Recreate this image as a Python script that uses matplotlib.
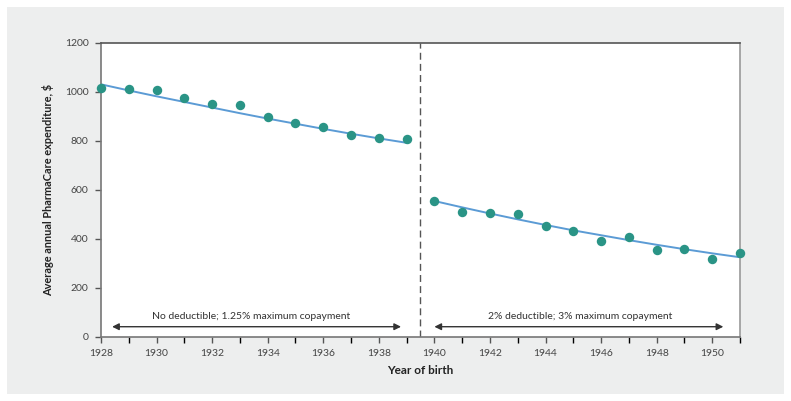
import numpy as np
import matplotlib
matplotlib.use("Agg")
import matplotlib.pyplot as plt
from matplotlib.patches import Rectangle

plt.rcParams['font.family'] = ['Lato', 'DejaVu Sans']

years_a = [1928, 1929, 1930, 1931, 1932, 1933, 1934, 1935, 1936, 1937, 1938, 1939]
spend_a = [1015, 1013, 1008, 976, 949, 946, 897, 874, 856, 822, 811, 806]
trend_a = [1031, 1006, 982, 959, 936, 913, 891, 870, 849, 829, 810, 792]
years_b = [1940, 1941, 1942, 1943, 1944, 1945, 1946, 1947, 1948, 1949, 1950, 1951]
spend_b = [554, 510, 505, 501, 452, 430, 389, 407, 352, 358, 317, 343]
trend_b = [554, 528, 503, 479, 456, 434, 414, 394, 375, 357, 340, 324]
xtick_labels = [1928, 1930, 1932, 1934, 1936, 1938, 1940, 1942, 1944, 1946, 1948, 1950]
yticks = [0, 200, 400, 600, 800, 1000, 1200]
label_a = "No deductible; 1.25% maximum copayment"
label_b = "2% deductible; 3% maximum copayment"

W, H = 791, 401
fig = plt.figure(figsize=(W / 100, H / 100), dpi=100)
fig.patch.set_facecolor('white')
fig.patches.append(Rectangle((7 / W, 7 / H), 777 / W, 387 / H, transform=fig.transFigure,
                             facecolor='#edeeee', edgecolor='none', zorder=-10))

ax = fig.add_axes([101 / W, (H - 336.5) / H, 639 / W, 293.5 / H])
ax.set_facecolor('white')

teal = '#2a9486'
blue = '#5b9bd5'

for xs_, ys_, tr_ in [(years_a, spend_a, trend_a), (years_b, spend_b, trend_b)]:
    ax.plot(xs_, tr_, color=blue, lw=1.4, zorder=2)
    ax.plot(xs_, ys_, 'o', color=teal, ms=6.8, mec='none', zorder=3, clip_on=False)

ax.axvline(1939.5, color='#555555', lw=1, ls=(0, (5, 3)), zorder=1)

ax.annotate('', xy=(1928.4, 40), xytext=(1938.8, 40),
            arrowprops=dict(arrowstyle='<|-|>', color='#333333', lw=1, mutation_scale=10,
                            shrinkA=0, shrinkB=0))
ax.annotate('', xy=(1940.0, 40), xytext=(1950.4, 40),
            arrowprops=dict(arrowstyle='<|-|>', color='#333333', lw=1, mutation_scale=10,
                            shrinkA=0, shrinkB=0))
ax.text(1933.4, 62, label_a, ha='center', va='bottom', fontsize=7.5, color='#333333')
ax.text(1945.25, 62, label_b, ha='center', va='bottom', fontsize=7.5, color='#333333')

ax.set_xlim(1928, 1951)
ax.set_ylim(0, 1200)
ax.set_xticks(xtick_labels)
ax.set_xticklabels([str(v) for v in xtick_labels])
ax.set_xticks(np.arange(1928, 1952, 1), minor=True)
ax.set_yticks(yticks)
ax.tick_params(axis='both', labelsize=7.5, colors='#555555', labelcolor='#444444', direction='out')
ax.tick_params(axis='x', which='both', length=4, width=1, pad=5)
ax.tick_params(axis='y', length=4, width=1, pad=5)

for s in ['left', 'bottom']:
    ax.spines[s].set_color('#777777')
ax.spines['top'].set_color('#555555')
ax.spines['right'].set_color('#999999')
for s in ax.spines.values():
    s.set_linewidth(1.2)

ax.set_ylabel('Average annual PharmaCare expenditure, $', fontsize=7.9, fontweight='bold',
              color='#222222', labelpad=8)
fig.text(420 / W, 1 - 371 / H, 'Year of birth', ha='center', va='center', fontsize=8.5,
         fontweight='bold', color='#222222')

fig.savefig('out.png', dpi=100, facecolor=fig.get_facecolor())
